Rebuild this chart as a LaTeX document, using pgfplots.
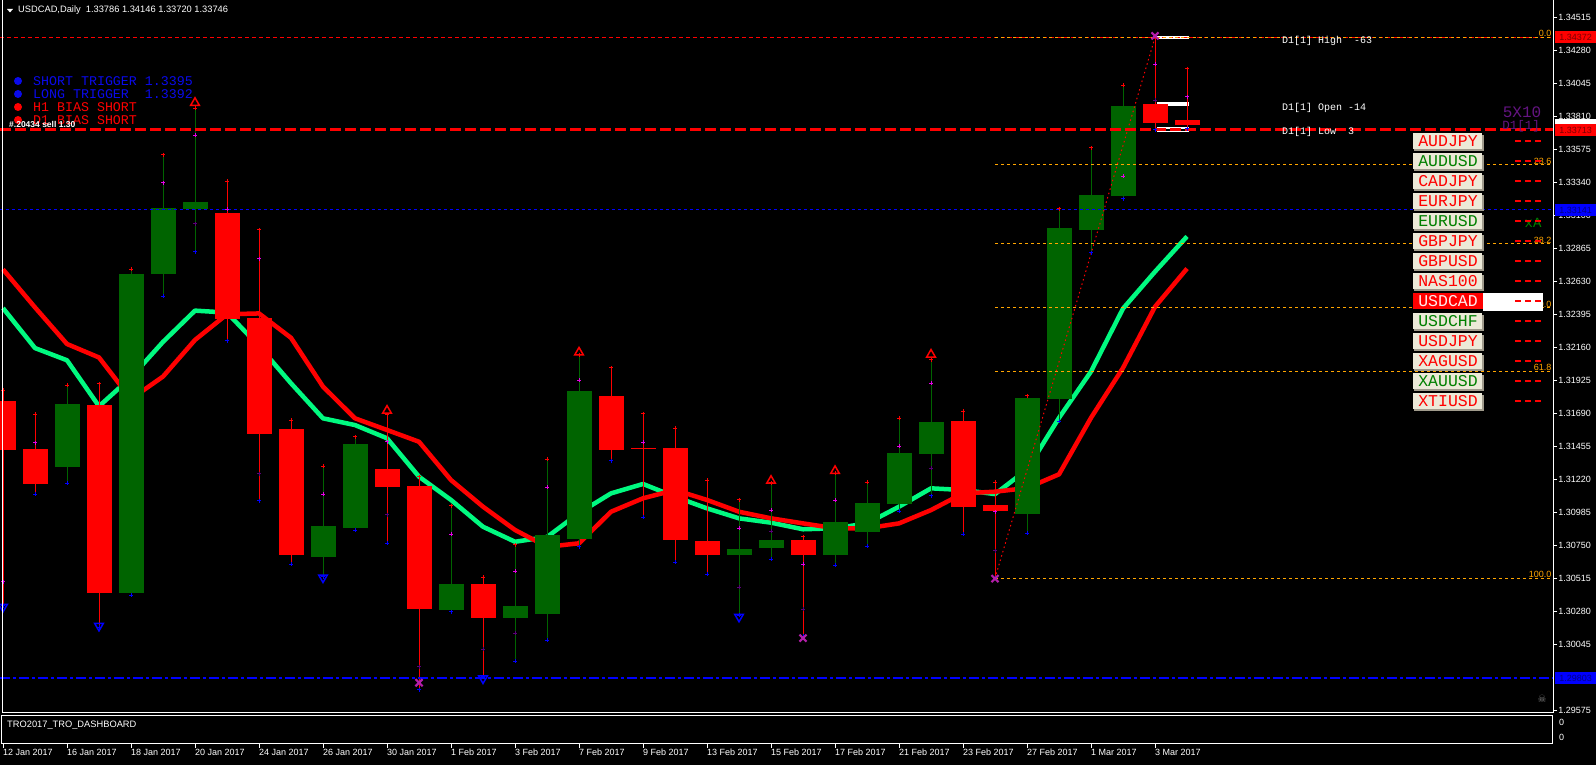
\documentclass[border=0pt]{standalone}
\usepackage{pgfplots}
\pgfplotsset{compat=1.18}
\usepackage{pgfplotstable}
\usepackage{fontspec}
\setmainfont{Liberation Sans}
\newfontfamily\mono{Liberation Mono}
\newfontfamily\djv{DejaVu Sans}

\definecolor{dkg}{RGB}{0,100,0}
\definecolor{magreen}{RGB}{0,250,128}
\definecolor{fib}{RGB}{255,165,0}
\definecolor{bl}{RGB}{0,0,255}
\definecolor{pk}{RGB}{230,0,230}
\definecolor{pur}{RGB}{90,0,120}
\definecolor{btn}{RGB}{236,233,216}
\definecolor{btnsh}{RGB}{160,155,140}
\definecolor{txg}{RGB}{0,128,0}
\definecolor{purtx}{RGB}{100,20,130}
\definecolor{xmk}{RGB}{180,30,170}
\definecolor{legbl}{RGB}{10,10,235}

\pgfplotstableread{
i o h l c
2 1.31311 1.31892 1.31191 1.31755
4 1.30413 1.32717 1.30395 1.32688
5 1.32685 1.33536 1.32525 1.33158
6 1.33149 1.33865 1.32844 1.33202
10 1.30668 1.31315 1.30525 1.30887
11 1.30875 1.31522 1.30856 1.31472
14 1.30288 1.31030 1.30276 1.30478
16 1.30233 1.30752 1.29924 1.30317
17 1.30262 1.31365 1.30074 1.30823
18 1.30794 1.32107 1.30739 1.31850
23 1.30680 1.31073 1.30252 1.30723
24 1.30732 1.31194 1.30650 1.30787
26 1.30680 1.31265 1.30607 1.30916
27 1.30844 1.31201 1.30742 1.31051
28 1.31047 1.31655 1.30994 1.31408
29 1.31403 1.32071 1.31103 1.31629
32 1.30973 1.31815 1.30834 1.31799
33 1.31792 1.33150 1.31633 1.33013
34 1.32997 1.33583 1.32834 1.33248
35 1.33240 1.34031 1.33221 1.33884
}\up

\pgfplotstableread{
i o h l c
0 1.31778 1.31857 1.30320 1.31430
1 1.31435 1.31685 1.31113 1.31189
3 1.31749 1.31900 1.30166 1.30413
7 1.33123 1.33347 1.32208 1.32362
8 1.32374 1.32998 1.31067 1.31546
9 1.31578 1.31642 1.30616 1.30683
12 1.31294 1.31679 1.30764 1.31167
13 1.31172 1.31237 1.29718 1.30295
15 1.30478 1.30521 1.29812 1.30233
19 1.31814 1.32014 1.31351 1.31429
20 1.31448 1.31686 1.30949 1.31434
21 1.31443 1.31584 1.30628 1.30787
22 1.30780 1.31215 1.30543 1.30680
25 1.30787 1.30811 1.30100 1.30680
30 1.31636 1.31705 1.30830 1.31025
31 1.31037 1.31198 1.30515 1.30995
36 1.33895 1.34372 1.33713 1.33760
37 1.33786 1.34146 1.33720 1.33746
}\dn

\pgfplotstableread{
i g r
0 1.32441 1.32717
1 1.32156 1.32446
2 1.32069 1.32185
3 1.31741 1.32089
4 1.31947 1.31793
5 1.32200 1.31953
6 1.32423 1.32214
7 1.32409 1.32397
8 1.32170 1.32403
9 1.31905 1.32229
10 1.31655 1.31881
11 1.31607 1.31655
12 1.31513 1.31572
13 1.31239 1.31488
14 1.31073 1.31215
15 1.30882 1.31025
16 1.30775 1.30859
17 1.30809 1.30739
18 1.30980 1.30764
19 1.31120 1.30989
20 1.31187 1.31085
21 1.31096 1.31144
22 1.31013 1.31073
23 1.30942 1.30989
24 1.30911 1.30942
25 1.30864 1.30906
26 1.30871 1.30871
27 1.30906 1.30871
28 1.31025 1.30906
29 1.31156 1.31001
30 1.31144 1.31120
31 1.31115 1.31132
32 1.31290 1.31158
33 1.31659 1.31256
34 1.31989 1.31659
35 1.32438 1.32015
36 1.32701 1.32451
37 1.32952 1.32723
}\ma

\pgfplotstableread{
i y
0 1.30491
1 1.31482
5 1.33335
6 1.33675
7 1.33147
8 1.32792
10 1.31113
12 1.31488
14 1.30830
16 1.30564
17 1.31163
18 1.31926
20 1.31484
23 1.30871
24 1.30999
25 1.30614
26 1.31071
28 1.31456
29 1.31905
31 1.30989
35 1.33380
36 1.34179
37 1.33949
}\mg

\pgfplotstableread{
i y
6 1.33042
8 1.31260
12 1.30966
13 1.29884
15 1.30010
16 1.30122
23 1.30450
24 1.30849
25 1.30293
29 1.31299
31 1.30711
36 1.33923
}\pu

\begin{document}
\begin{tikzpicture}
\path[use as bounding box] (0pt,0pt) rectangle (1596pt,765pt);
\fill[black] (0pt,0pt) rectangle (1596pt,765pt);

\begin{axis}[
  at={(0pt,52pt)}, anchor=south west,
  width=1553pt, height=713pt, scale only axis,
  xmin=-0.09375, xmax=48.4375,
  ymin=1.29554, ymax=1.34638,
  axis line style={draw=none},
  xtick=\empty,
  ytick={1.29575,1.30045,1.30280,1.30515,1.30750,1.30985,1.31220,1.31455,1.31690,1.31925,1.32160,1.32395,1.32630,1.32865,1.33100,1.33340,1.33575,1.33810,1.34045,1.34280,1.34515},
  yticklabels={1.29575,1.30045,1.30280,1.30515,1.30750,1.30985,1.31220,1.31455,1.31690,1.31925,1.32160,1.32395,1.32630,1.32865,1.33100,1.33340,1.33575,1.33810,1.34045,1.34280,1.34515},
  ytick pos=right, yticklabel pos=right,
  tick align=outside, major tick length=4pt,
  tick style={white, line width=0.8pt},
  yticklabel style={white, font=\fontsize{9}{10}\selectfont, anchor=west, inner sep=0pt, xshift=1pt},
  candle/.style={draw=none, no markers, forget plot, error bars/.cd, y dir=both, y explicit, error mark=none},
]
% moving averages
\addplot[magreen, line width=4.5pt, line join=round] table[x=i,y=g]{\ma};
\addplot[red, line width=4.5pt, line join=round] table[x=i,y=r]{\ma};
% D1 markers (behind candles)
\addplot[white, line width=3pt] coordinates {(36.06,1.34372) (37.06,1.34372)};
\addplot[white, line width=4pt] coordinates {(36.06,1.33897) (37.06,1.33897)};
\addplot[white, line width=5pt] coordinates {(36.06,1.33713) (37.06,1.33713)};
\addplot[black, line width=2.4pt] coordinates {(36.12,1.33713) (37.0,1.33713)};
% wicks
\addplot[candle, error bar style={draw=dkg, line width=1pt}]
  table[x=i, y expr={(\thisrow{h}+\thisrow{l})/2}, y error expr={(\thisrow{h}-\thisrow{l})/2}]{\up};
\addplot[candle, error bar style={draw=red, line width=1pt}]
  table[x=i, y expr={(\thisrow{h}+\thisrow{l})/2}, y error expr={(\thisrow{h}-\thisrow{l})/2}]{\dn};
% bodies
\addplot[candle, error bar style={draw=dkg, line width=25pt}]
  table[x=i, y expr={(\thisrow{o}+\thisrow{c})/2}, y error expr={abs(\thisrow{c}-\thisrow{o})/2}]{\up};
\addplot[candle, error bar style={draw=red, line width=25pt}]
  table[x=i, y expr={(\thisrow{o}+\thisrow{c})/2}, y error expr={abs(\thisrow{c}-\thisrow{o})/2}]{\dn};
% horizontal objects
\addplot[red, line width=1pt, dash pattern=on 4pt off 3pt] coordinates {(-0.1,1.34372) (48.5,1.34372)};
\addplot[red, line width=3pt, dash pattern=on 11pt off 4pt] coordinates {(-0.1,1.33713) (48.5,1.33713)};
\addplot[bl, line width=1pt, dash pattern=on 3pt off 3pt] coordinates {(-0.1,1.33141) (48.5,1.33141)};
\addplot[bl, line width=1.5pt, dash pattern=on 10pt off 3pt on 3pt off 3pt] coordinates {(-0.1,1.29803) (48.5,1.29803)};
% fibonacci
\addplot[fib, line width=1pt, dash pattern=on 3pt off 3pt] coordinates {(31,1.34372) (48.5,1.34372)};
\addplot[fib, line width=1pt, dash pattern=on 3pt off 3pt] coordinates {(31,1.33462) (48.5,1.33462)};
\addplot[fib, line width=1pt, dash pattern=on 3pt off 3pt] coordinates {(31,1.32899) (48.5,1.32899)};
\addplot[fib, line width=1pt, dash pattern=on 3pt off 3pt] coordinates {(31,1.32443) (48.5,1.32443)};
\addplot[fib, line width=1pt, dash pattern=on 3pt off 3pt] coordinates {(31,1.31988) (48.5,1.31988)};
\addplot[fib, line width=1pt, dash pattern=on 3pt off 3pt] coordinates {(31,1.30515) (48.5,1.30515)};
\addplot[red, line width=1pt, dash pattern=on 1.5pt off 3pt] coordinates {(31,1.30515) (36,1.34372)};
% indicator dots
\addplot[only marks, mark=+, mark size=2pt, red, line width=1pt] table[x=i,y=h]{\up};
\addplot[only marks, mark=+, mark size=2pt, red, line width=1pt] table[x=i,y=h]{\dn};
\addplot[only marks, mark=+, mark size=2pt, bl, line width=1pt] table[x=i,y=l]{\up};
\addplot[only marks, mark=+, mark size=2pt, bl, line width=1pt] table[x=i,y=l]{\dn};
\addplot[only marks, mark=+, mark size=2pt, pk, line width=1pt] table[x=i,y=y]{\mg};
\addplot[only marks, mark=+, mark size=2pt, pur, line width=1pt] table[x=i,y=y]{\pu};
% signal arrows
\addplot[only marks, mark=triangle, mark size=5pt, red, line width=1.5pt]
  coordinates {(6,1.33905) (12,1.31710) (18,1.32125) (24,1.31210) (26,1.31280) (29,1.32110)};
\addplot[only marks, mark=triangle, mark size=5pt, bl, line width=1.5pt, every mark/.append style={rotate=180}]
  coordinates {(0,1.30310) (3,1.30175) (10,1.30520) (15,1.29800) (23,1.30240)};
\addplot[only marks, mark=x, mark size=5pt, xmk, line width=2.2pt]
  coordinates {(13,1.29770) (25,1.30088) (31,1.30512) (36,1.34382)};
% fib labels
\node[anchor=south east, inner sep=0.5pt, text=fib, font=\fontsize{9}{10}\selectfont] at (axis cs:48.41,1.34372) {0.0};
\node[anchor=south east, inner sep=0.5pt, text=fib, font=\fontsize{9}{10}\selectfont] at (axis cs:48.41,1.33462) {23.6};
\node[anchor=south east, inner sep=0.5pt, text=fib, font=\fontsize{9}{10}\selectfont] at (axis cs:48.41,1.32899) {38.2};
\node[anchor=south east, inner sep=0.5pt, text=fib, font=\fontsize{9}{10}\selectfont] at (axis cs:48.41,1.32443) {50.0};
\node[anchor=south east, inner sep=0.5pt, text=fib, font=\fontsize{9}{10}\selectfont] at (axis cs:48.41,1.31988) {61.8};
\node[anchor=south east, inner sep=0.5pt, text=fib, font=\fontsize{9}{10}\selectfont] at (axis cs:48.41,1.30515) {100.0};
\end{axis}

% indicator panel with date axis
\begin{axis}[
  at={(2pt,21pt)}, anchor=south west,
  width=1551pt, height=28pt, scale only axis,
  xmin=-0.03125, xmax=48.4375, ymin=0, ymax=1,
  axis line style={white, line width=1pt},
  xtick={0,2,...,36},
  xticklabels={12 Jan 2017,16 Jan 2017,18 Jan 2017,20 Jan 2017,24 Jan 2017,26 Jan 2017,30 Jan 2017,1 Feb 2017,3 Feb 2017,7 Feb 2017,9 Feb 2017,13 Feb 2017,15 Feb 2017,17 Feb 2017,21 Feb 2017,23 Feb 2017,27 Feb 2017,1 Mar 2017,3 Mar 2017},
  xtick pos=bottom, tick align=outside, major tick length=4pt,
  xtick style={white, line width=0.8pt},
  xticklabel style={white, font=\fontsize{9}{10}\selectfont, anchor=north west, inner sep=0pt, yshift=-1pt},
  ytick={0.25,0.786}, yticklabels={0,0},
  ytick pos=right, yticklabel pos=right, ytick style={draw=none},
  yticklabel style={white, font=\fontsize{9}{10}\selectfont, anchor=west, inner sep=0pt, xshift=2pt},
]
\end{axis}

% main panel frame
\draw[white, line width=1pt] (2pt,52pt) -- (2pt,765pt);
\draw[white, line width=1pt] (2pt,52.5pt) -- (1553pt,52.5pt);
\draw[white, line width=1pt] (1553pt,52pt) -- (1553pt,765pt);

% title
\fill[white] (7pt,756pt) -- (13pt,756pt) -- (10pt,752.5pt) -- cycle;
\node[anchor=west, inner sep=0pt, text=white, font=\fontsize{9.3}{10}\selectfont] at (18pt,754.5pt) {USDCAD,Daily\ \ 1.33786 1.34146 1.33720 1.33746};
\node[anchor=west, inner sep=0pt, text=white, font=\fontsize{9.3}{10}\selectfont] at (7pt,40pt) {TRO2017\_TRO\_DASHBOARD};

% top-left legend
\fill[legbl] (18pt,684pt) circle (4pt);
\fill[legbl] (18pt,671pt) circle (4pt);
\fill[red] (18pt,658pt) circle (4pt);
\fill[red] (18pt,645pt) circle (4pt);
\node[anchor=west, inner sep=0pt, text=legbl, font=\mono\fontsize{13.3}{14}\selectfont] at (33pt,684pt) {SHORT TRIGGER 1.3395};
\node[anchor=west, inner sep=0pt, text=legbl, font=\mono\fontsize{13.3}{14}\selectfont] at (33pt,671pt) {LONG TRIGGER\ \ 1.3392};
\node[anchor=west, inner sep=0pt, text=red, font=\mono\fontsize{13.3}{14}\selectfont] at (33pt,658pt) {H1 BIAS SHORT};
\node[anchor=west, inner sep=0pt, text=red, font=\mono\fontsize{13.3}{14}\selectfont] at (33pt,645pt) {D1 BIAS SHORT};
\node[anchor=west, inner sep=0pt, text=white, font=\bfseries\fontsize{8.5}{9}\selectfont] at (9pt,641pt) {\#.20434 sell 1.30};

% D1 labels
\node[anchor=west, inner sep=0pt, text=white, font=\mono\fontsize{10}{11}\selectfont] at (1282pt,724pt) {D1[1] High\ \ -63};
\node[anchor=west, inner sep=0pt, text=white, font=\mono\fontsize{10}{11}\selectfont] at (1282pt,657pt) {D1[1] Open -14};
\node[anchor=west, inner sep=0pt, text=white, font=\mono\fontsize{10}{11}\selectfont] at (1282pt,633pt) {D1[1] Low\ \ 3};

% purple / green tags
\node[anchor=center, inner sep=0pt, text=purtx, font=\mono\fontsize{16}{16}\selectfont] at (1522pt,653pt) {5X10};
\node[anchor=center, inner sep=0pt, text=purtx, font=\mono\fontsize{12.5}{13}\selectfont] at (1521pt,639pt) {D1[1]};
\node[anchor=center, inner sep=0pt, text=txg, font=\mono\fontsize{14}{14}\selectfont] at (1533pt,542pt) {xA};
\node[anchor=center, inner sep=0pt, text=gray, font=\djv\fontsize{10}{10}\selectfont] at (1542pt,66pt) {☠};

% symbol buttons
\fill[white] (1483pt,454pt) rectangle (1543pt,472pt);
\foreach \k/\nm/\cl in {0/AUDJPY/red,1/AUDUSD/txg,2/CADJPY/red,3/EURJPY/red,4/EURUSD/txg,5/GBPJPY/red,6/GBPUSD/red,7/NAS100/red,9/USDCHF/txg,10/USDJPY/red,11/XAGUSD/red,12/XAUUSD/txg,13/XTIUSD/red}{
  \fill[btnsh] (1414pt,{614pt-20pt*\k}) rectangle (1484pt,{630pt-20pt*\k});
  \fill[btn] (1413pt,{616pt-20pt*\k}) rectangle (1482pt,{632pt-20pt*\k});
  \node[inner sep=0pt, text=\cl, font=\mono\fontsize{16.5}{17}\selectfont] at (1448pt,{624pt-20pt*\k}) {\nm};
}
\fill[red] (1413pt,456pt) rectangle (1483pt,472pt);
\node[inner sep=0pt, text={rgb,255:red,255;green,235;blue,235}, font=\mono\fontsize{16.5}{17}\selectfont] at (1448pt,464pt) {USDCAD};
\foreach \k in {0,...,13}{
  \draw[red, line width=1.3pt, dash pattern=on 6pt off 4pt] (1515pt,{624pt-20pt*\k}) -- (1543pt,{624pt-20pt*\k});
}

% right axis price labels
\fill[white] (1555pt,641pt) rectangle (1596pt,646pt);
\fill[red] (1555pt,722pt) rectangle (1596pt,734pt);
\node[inner sep=0pt, text={rgb,255:red,120;green,0;blue,0}, font=\fontsize{9}{10}\selectfont] at (1575.5pt,728pt) {1.34372};
\fill[red] (1555pt,629pt) rectangle (1596pt,641pt);
\node[inner sep=0pt, text={rgb,255:red,120;green,0;blue,0}, font=\fontsize{9}{10}\selectfont] at (1575.5pt,635pt) {1.33713};
\fill[bl] (1555pt,549pt) rectangle (1596pt,561pt);
\node[inner sep=0pt, text={rgb,255:red,0;green,0;blue,130}, font=\fontsize{9}{10}\selectfont] at (1575.5pt,555pt) {1.33141};
\fill[bl] (1555pt,81pt) rectangle (1596pt,93pt);
\node[inner sep=0pt, text={rgb,255:red,0;green,0;blue,130}, font=\fontsize{9}{10}\selectfont] at (1575.5pt,87pt) {1.29803};
\end{tikzpicture}
\end{document}
